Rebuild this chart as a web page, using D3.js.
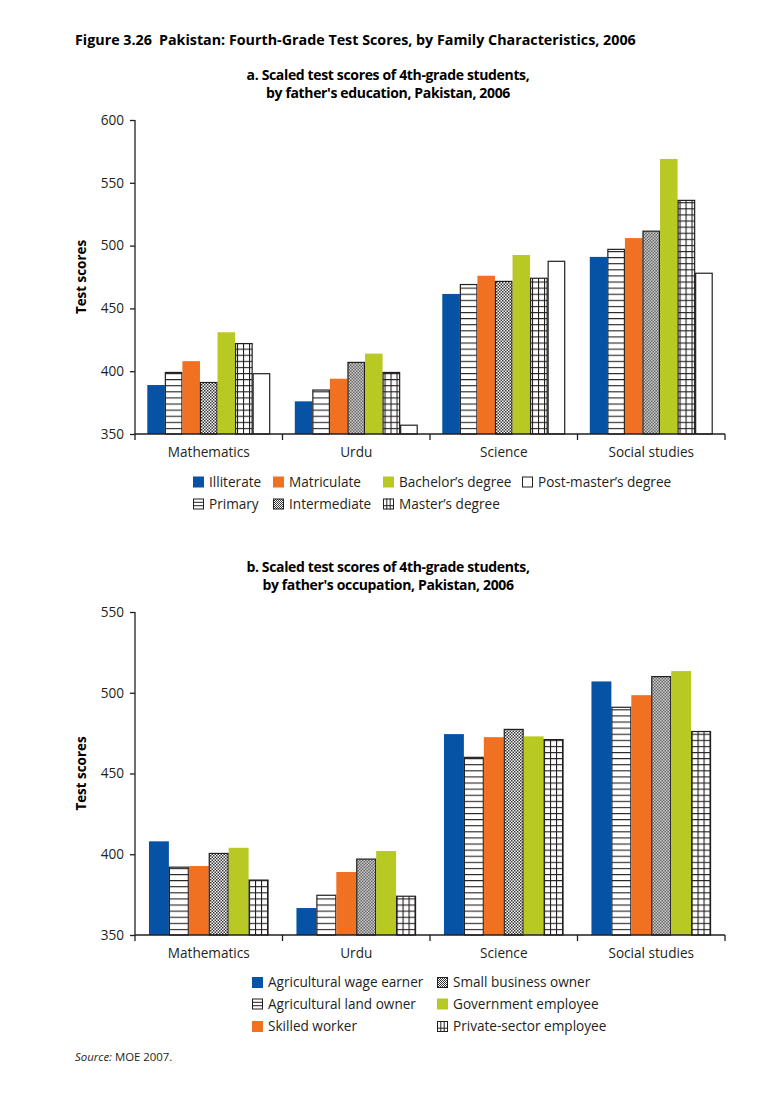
<!DOCTYPE html>
<html><head><meta charset="utf-8">
<script src="https://cdn.jsdelivr.net/npm/d3@7"></script>
<style>
body{margin:0;background:#fff;}
svg{display:block;font-family:"Open Sans",Lato,sans-serif;}
</style></head>
<body>
<svg id="c" width="783" height="1100"></svg>
<script>
const subjects = ["Mathematics","Urdu","Science","Social studies"];

const eduSeries = ["Illiterate","Primary","Matriculate","Intermediate","Bachelor’s degree","Master’s degree","Post-master’s degree"];
const eduMath    = [389,399,408,391,431,422,398];
const eduUrdu    = [376,385,394,407,414,399,357];
const eduScience = [461.5,469,476,471.5,492.5,474,487.5];
const eduSocial  = [491,497,506,511.5,569,536,478];
const eduTicks = [350,400,450,500,550,600];

const occSeries = ["Agricultural wage earner","Agricultural land owner","Skilled worker","Small business owner","Government employee","Private-sector employee"];
const occMath    = [408,392,392.7,400.5,404,384];
const occUrdu    = [366.7,374.6,389,397,402,374];
const occScience = [474.4,460,472.5,477.3,473,471];
const occSocial  = [507,491,498.5,510,513.4,476];
const occTicks = [350,400,450,500,550];

const eduStyles = ["blue","hlines","orange","checker","green","grid","white"];
const occStyles = ["blue","hlines","orange","checker","green","grid"];

const C = {blue:"#0652a5", orange:"#f07122", green:"#b8c924", ink:"#231f20"};
const FS = 13.6;

const svg = d3.select("#c");
const defs = svg.append("defs");

function makePatterns(id, baseY){
  const h = defs.append("pattern").attr("id","hl"+id).attr("patternUnits","userSpaceOnUse")
    .attr("width",6).attr("height",6.1).attr("y",baseY);
  h.append("rect").attr("width",6).attr("height",6.1).attr("fill","#fff");
  h.append("line").attr("x1",0).attr("x2",6).attr("y1",0.5).attr("y2",0.5).attr("stroke",C.ink).attr("stroke-width",1.2);
  const g = defs.append("pattern").attr("id","gr"+id).attr("patternUnits","userSpaceOnUse")
    .attr("width",6).attr("height",6.1).attr("y",baseY);
  g.append("rect").attr("width",6).attr("height",6.1).attr("fill","#fff");
  g.append("line").attr("x1",0).attr("x2",6).attr("y1",0.5).attr("y2",0.5).attr("stroke",C.ink).attr("stroke-width",1.2);
  g.append("line").attr("x1",0.5).attr("x2",0.5).attr("y1",0).attr("y2",6.1).attr("stroke",C.ink).attr("stroke-width",1.2);
}
const ck = defs.append("pattern").attr("id","ck").attr("patternUnits","userSpaceOnUse").attr("width",3).attr("height",3);
ck.append("rect").attr("width",3).attr("height",3).attr("fill","#fff");
ck.append("rect").attr("width",1.5).attr("height",1.5).attr("fill","#333");
ck.append("rect").attr("x",1.5).attr("y",1.5).attr("width",1.5).attr("height",1.5).attr("fill","#333");
const lck = defs.append("pattern").attr("id","lck").attr("patternUnits","userSpaceOnUse").attr("width",2).attr("height",2);
lck.append("rect").attr("width",2).attr("height",2).attr("fill","#fff");
lck.append("rect").attr("width",1).attr("height",1).attr("fill","#333");
lck.append("rect").attr("x",1).attr("y",1).attr("width",1).attr("height",1).attr("fill","#333");

function styleOf(s, id){
  switch(s){
    case "blue": return {fill:C.blue, stroke:"none"};
    case "orange": return {fill:C.orange, stroke:"none"};
    case "green": return {fill:C.green, stroke:"none"};
    case "white": return {fill:"#fff", stroke:C.ink};
    case "hlines": return {fill:"url(#hl"+id+")", stroke:C.ink};
    case "grid": return {fill:"url(#gr"+id+")", stroke:C.ink};
    case "checker": return {fill:"url(#ck)", stroke:C.ink};
  }
}

// Title
const tt = svg.append("text").attr("x",75).attr("y",45).attr("font-size",14.3).attr("font-weight",700)
  .attr("fill","#000").attr("letter-spacing",0);
tt.append("tspan").text("Figure 3.26");
tt.append("tspan").attr("dx",7).text("Pakistan: Fourth-Grade Test Scores, by Family Characteristics, 2006");

function chart(cfg){
  const {id, top, bottom, ticks, series, values, styles, sub1, sub2, subY} = cfg;
  const x0 = d3.scaleBand().domain(subjects).range([135,725]).padding(0);
  const x1 = d3.scaleBand().domain(series).range([0,x0.bandwidth()]).paddingInner(0).paddingOuter(cfg.pOuter);
  const y = d3.scaleLinear().domain([ticks[0],ticks[ticks.length-1]]).range([bottom,top]);
  makePatterns(id, bottom);

  const st = svg.append("text").attr("x",388).attr("y",subY).attr("text-anchor","middle")
    .attr("font-size",14).attr("font-weight",700).attr("fill","#000").attr("letter-spacing",-0.35);
  st.append("tspan").attr("x",388).text(sub1);
  st.append("tspan").attr("x",388).attr("dy",18).text(sub2);

  const g = svg.append("g");
  subjects.forEach((sub,i)=>{
    const gg = g.append("g").attr("transform",`translate(${x0(sub)},0)`);
    series.forEach((s,j)=>{
      const v = values[i][j];
      const sty = styleOf(styles[j], id);
      gg.append("rect").attr("x",x1(s)+(sty.stroke==="none"?0:0.5)).attr("y",y(v))
        .attr("width",x1.bandwidth()-(sty.stroke==="none"?0:1)).attr("height",y(ticks[0])-y(v))
        .attr("fill",sty.fill).attr("stroke",sty.stroke).attr("stroke-width",1.2);
    });
  });

  const ya = svg.append("g").attr("transform","translate(135,0)")
    .call(d3.axisLeft(y).tickValues(ticks).tickSize(5).tickPadding(6).tickFormat(d3.format("d")));
  ya.selectAll("path").attr("d",`M-0,${y(ticks[ticks.length-1])}V${bottom}`);
  ya.selectAll("path,line").attr("stroke",C.ink).attr("stroke-width",1.3);
  ya.selectAll("text").attr("font-size",FS).attr("fill",C.ink).attr("font-family","Open Sans");

  const xa = svg.append("g").attr("transform",`translate(0,${bottom})`)
    .call(d3.axisBottom(x0).tickSize(0).tickPadding(13.5));
  xa.selectAll("path").attr("d","M135,0H725").attr("stroke",C.ink).attr("stroke-width",1.3);
  xa.selectAll("text").attr("font-size",FS).attr("fill",C.ink).attr("font-family","Open Sans");
  const bounds = subjects.map(s=>x0(s)).concat([725]);
  xa.selectAll("line.bd").data(bounds).enter().append("line").attr("class","bd")
    .attr("x1",d=>d).attr("x2",d=>d).attr("y1",0).attr("y2",6).attr("stroke",C.ink).attr("stroke-width",1.3);

  svg.append("text").attr("transform",`translate(86,${(top+bottom)/2}) rotate(-90)`)
    .attr("text-anchor","middle").attr("font-size",13.4).attr("font-weight",700).attr("fill","#000").text("Test scores");
}

chart({id:"a", top:120, bottom:434, ticks:eduTicks, series:eduSeries,
  values:[eduMath,eduUrdu,eduScience,eduSocial], styles:eduStyles, pOuter:0.7,
  sub1:"a. Scaled test scores of 4th-grade students,", sub2:"by father's education, Pakistan, 2006", subY:80});
chart({id:"b", top:612, bottom:935, ticks:occTicks, series:occSeries,
  values:[occMath,occUrdu,occScience,occSocial], styles:occStyles, pOuter:0.7,
  sub1:"b. Scaled test scores of 4th-grade students,", sub2:"by father's occupation, Pakistan, 2006", subY:572});

function legendSwatch(x, yc, s){
  const y = yc-5.5, sz=11;
  const gg = svg.append("g");
  if(s==="blue"||s==="orange"||s==="green"){
    gg.append("rect").attr("x",x).attr("y",y).attr("width",sz).attr("height",sz).attr("fill",C[s]);
  } else {
    gg.append("rect").attr("x",x+0.5).attr("y",y+0.5).attr("width",sz-1).attr("height",sz-1)
      .attr("fill", s==="checker"?"url(#lck)":"#fff").attr("stroke",C.ink).attr("stroke-width",1);
    if(s==="hlines"){
      [3.8,7.2].forEach(d=>gg.append("line").attr("x1",x).attr("x2",x+sz).attr("y1",y+d).attr("y2",y+d).attr("stroke",C.ink).attr("stroke-width",1));
    }
    if(s==="grid"){
      [3.8].forEach(d=>gg.append("line").attr("x1",x).attr("x2",x+sz).attr("y1",y+sz-d).attr("y2",y+sz-d).attr("stroke",C.ink).attr("stroke-width",1));
      [3.8,7.2].forEach(d=>gg.append("line").attr("x1",x+d).attr("x2",x+d).attr("y1",y).attr("y2",y+sz).attr("stroke",C.ink).attr("stroke-width",1));
    }
  }
}
function legendItem(x, yc, s, label){
  legendSwatch(x, yc, s);
  svg.append("text").attr("x",x+16).attr("y",yc+4.8).attr("font-size",FS).attr("fill",C.ink)
    .text(label);
}
const la = [[193,482,0],[273,482,2],[383,482,4],[522,482,6],[193,504,1],[273,504,3],[383,504,5]];
la.forEach(([x,y,j])=>legendItem(x,y,eduStyles[j],eduSeries[j]));
const lb = [[252,982.5,0],[252,1004,1],[252,1026.5,2],[437,982.5,3],[437,1004,4],[437,1026.5,5]];
lb.forEach(([x,y,j])=>legendItem(x,y,occStyles[j],occSeries[j]));

const src = svg.append("text").attr("x",75).attr("y",1061).attr("font-size",11.4).attr("fill",C.ink);
src.append("tspan").attr("font-style","italic").text("Source:");
src.append("tspan").text(" MOE 2007.");
</script>
</body></html>
